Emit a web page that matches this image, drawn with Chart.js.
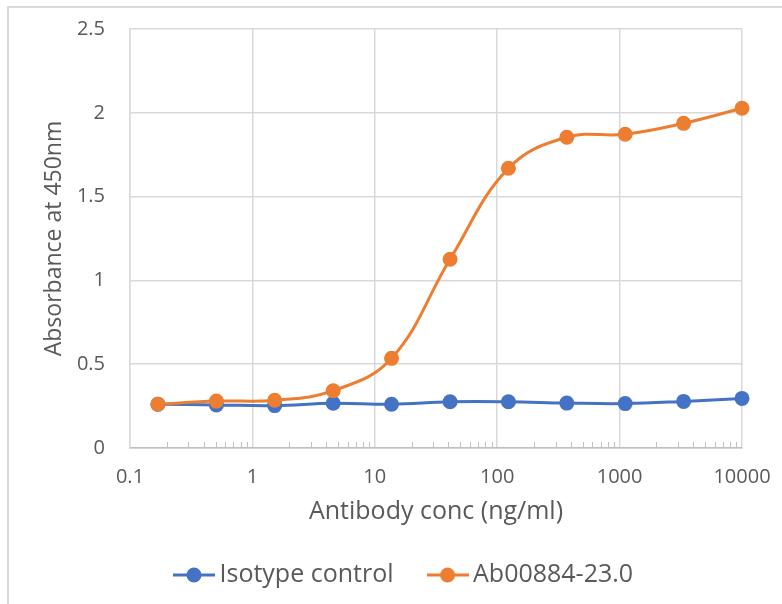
<!DOCTYPE html>
<html>
<head>
<meta charset="utf-8">
<script src="https://cdn.jsdelivr.net/npm/chart.js@4.4.1/dist/chart.umd.min.js"></script>
<style>
  html, body { margin: 0; padding: 0; background: #fff; }
  #frame { position: absolute; left: 7px; top: 6px; width: 775px; height: 598px; border-top: 2px solid #d9d9d9; border-left: 2px solid #d9d9d9; }
  canvas { position: absolute; left: 0; top: 0; }
</style>
</head>
<body>
<div id="frame"></div>
<canvas id="chart" width="782" height="604"></canvas>
<script>
"use strict";

const concentrations = [0.169, 0.508, 1.52, 4.57, 13.7, 41.2, 123.5, 370.4, 1111, 3333, 10000];
const isotypeValues = [0.261, 0.257, 0.253, 0.267, 0.261, 0.276, 0.276, 0.268, 0.265, 0.278, 0.296];
const antibodyValues = [0.261, 0.28, 0.285, 0.342, 0.535, 1.126, 1.669, 1.854, 1.872, 1.937, 2.027];
const xTickValues = [0.1, 1, 10, 100, 1000, 10000];
const xTickLabels = ["0.1", "1", "10", "100", "1000", "10000"];
const yTickLabels = ["0", "0.5", "1", "1.5", "2", "2.5"];
const seriesNames = ["Isotype control", "Ab00884-23.0"];

const BLUE = "#4472c4";
const ORANGE = "#ed7d31";
const TEXT = "#595959";
const GRID = "#d9d9d9";

Chart.defaults.font.family = "'Open Sans', sans-serif";
Chart.defaults.color = TEXT;

// line + dot legend symbol, like the spreadsheet one
const legendSymbol = (color) => {
    const c = document.createElement("canvas");
    c.width = 42;
    c.height = 18;
    const g = c.getContext("2d");
    g.strokeStyle = color;
    g.lineWidth = 3;
    g.beginPath();
    g.moveTo(0, 9);
    g.lineTo(42, 9);
    g.stroke();
    g.fillStyle = color;
    g.beginPath();
    g.arc(21, 9, 7.5, 0, Math.PI * 2);
    g.fill();
    return c;
};
const symbols = [legendSymbol(BLUE), legendSymbol(ORANGE)];

const toPoints = (values) => values.map((v, i) => ({ x: concentrations[i], y: v }));

// small log ticks (2..9) standing on the x axis
const minorTicks = {
    id: "minorTicks",
    beforeDatasetsDraw(chart) {
        const xs = chart.scales.x;
        const bottom = chart.chartArea.bottom;
        const ctx = chart.ctx;
        ctx.save();
        ctx.strokeStyle = "#bfbfbf";
        ctx.lineWidth = 1;
        xTickValues.slice(0, -1).forEach(v => {
            for (let m = 2; m <= 9; m++) {
                const px = Math.round(xs.getPixelForValue(v * m)) + 0.5;
                ctx.beginPath();
                ctx.moveTo(px, bottom);
                ctx.lineTo(px, bottom - 6);
                ctx.stroke();
            }
        });
        ctx.restore();
    }
};

// put the legend row where the reference has it
const legendPlacement = {
    id: "legendPlacement",
    afterLayout(chart) {
        const lg = chart.legend;
        const p = lg.options.labels.padding;
        const fs = lg.options.labels.font.size;
        lg.left = 181 - p;
        lg.right = lg.left + 782;
        lg.top = 575 - fs / 2 - p;
        lg.bottom = lg.top + lg.height;
    }
};

new Chart(document.getElementById("chart"), {
    type: "line",
    data: {
        datasets: [
            {
                label: seriesNames[0],
                data: toPoints(isotypeValues),
                borderColor: BLUE,
                backgroundColor: BLUE,
                order: 1
            },
            {
                label: seriesNames[1],
                data: toPoints(antibodyValues),
                borderColor: ORANGE,
                backgroundColor: ORANGE,
                order: 0
            }
        ]
    },
    options: {
        responsive: false,
        animation: false,
        layout: { autoPadding: false, padding: { left: 0, top: 29, right: 40, bottom: 0 } },
        elements: {
            line: { borderWidth: 3, tension: 0.4 },
            point: { radius: 7.5, hoverRadius: 7.5, borderWidth: 0, pointStyle: "circle" }
        },
        datasets: { line: { clip: false } },
        scales: {
            x: {
                type: "logarithmic",
                min: 0.1,
                max: 10000,
                afterBuildTicks: (scale) => {
                    scale.ticks = xTickValues.map(v => ({ value: v }));
                },
                afterFit: (scale) => {
                    scale.height = 80;
                    scale.paddingLeft = 0;
                    scale.paddingRight = 0;
                },
                ticks: {
                    autoSkip: false,
                    maxRotation: 0,
                    padding: 17,
                    font: { size: 20 },
                    color: TEXT,
                    callback: (value, index) => xTickLabels[index]
                },
                grid: { color: GRID, lineWidth: 1.5, drawTicks: false },
                border: { color: "#bfbfbf", width: 1.5 },
                title: {
                    display: true,
                    text: "Antibody conc (ng/ml)",
                    font: { size: 25 },
                    color: TEXT,
                    padding: { top: 0, bottom: 1 }
                }
            },
            y: {
                min: 0,
                max: 2.5,
                afterFit: (scale) => {
                    scale.width = 130;
                    scale.paddingTop = 0;
                    scale.paddingBottom = 0;
                },
                ticks: {
                    stepSize: 0.5,
                    padding: 25,
                    font: { size: 20 },
                    color: TEXT,
                    callback: (value, index) => yTickLabels[index]
                },
                grid: { color: GRID, lineWidth: 1.5, drawTicks: false },
                border: { color: GRID, width: 1.5 },
                title: {
                    display: true,
                    text: "Absorbance at 450nm",
                    font: { size: 23 },
                    color: TEXT,
                    padding: { top: 41, bottom: 0 }
                }
            }
        },
        plugins: {
            tooltip: { enabled: false },
            legend: {
                position: "bottom",
                align: "start",
                labels: {
                    usePointStyle: true,
                    pointStyleWidth: 26,
                    padding: 41,
                    font: { size: 25 },
                    color: TEXT,
                    sort: (a, b) => a.datasetIndex - b.datasetIndex,
                    generateLabels: (chart) =>
                        Chart.defaults.plugins.legend.labels.generateLabels(chart)
                            .map(item => ({ ...item, pointStyle: symbols[item.datasetIndex] }))
                }
            }
        }
    },
    plugins: [minorTicks, legendPlacement]
});
</script>
</body>
</html>
